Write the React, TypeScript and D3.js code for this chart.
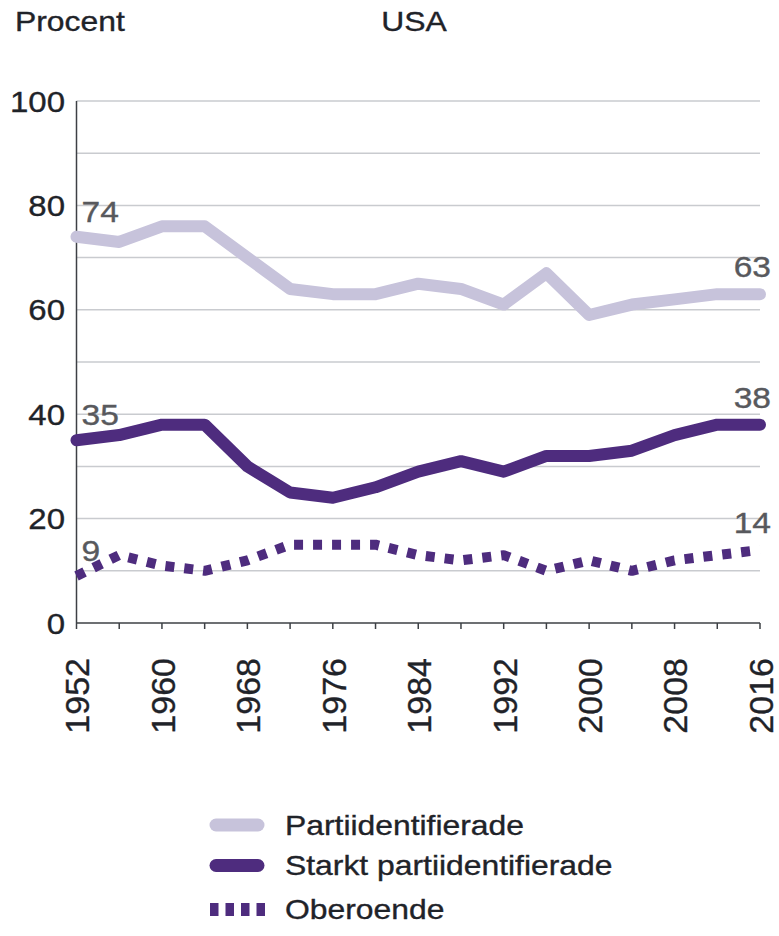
import React from "react";
import * as d3 from "d3";

const years = [1952, 1956, 1960, 1964, 1968, 1972, 1976, 1980, 1984, 1988, 1992, 1996, 2000, 2004, 2008, 2012, 2016];
const partiidentifierade = [74, 73, 76, 76, 70, 64, 63, 63, 65, 64, 61, 67, 59, 61, 62, 63, 63];
const starkt = [35, 36, 38, 38, 30, 25, 24, 26, 29, 31, 29, 32, 32, 33, 36, 38, 38];
const oberoende = [9, 13, 11, 10, 12, 15, 15, 15, 13, 12, 13, 10, 12, 10, 12, 13, 14];
const xTickLabels = [1952, 1960, 1968, 1976, 1984, 1992, 2000, 2008, 2016];
const yTickLabels = [0, 20, 40, 60, 80, 100];
const gridValues = [10, 20, 30, 40, 50, 60, 70, 80, 90, 100];
const seriesNames = ["Partiidentifierade", "Starkt partiidentifierade", "Oberoende"];

const W = 779;
const H = 936;
const FONT = "'Liberation Sans', Arial, Helvetica, sans-serif";
const SX = 1.18;
const LIGHT = "#c7c3db";
const DARK = "#4e2c7e";
const TEXT = "#1f2329";
const VAL = "#58595d";
const GRID = "#c9cbcf";
const AXIS = "#3d4045";

function T({ x, y, size, anchor = "start", fill = TEXT, sx = SX, children }: any) {
  return (
    <text
      transform={`translate(${x},${y}) scale(${sx},1)`}
      textAnchor={anchor}
      fontSize={size}
      fontFamily={FONT}
      fill={fill}
      stroke={fill}
      strokeWidth={0.35}
    >
      {children}
    </text>
  );
}

export default function App() {
  const x = d3.scaleLinear().domain([1952, 2016]).range([76.5, 760]);
  const y = d3.scaleLinear().domain([0, 100]).range([623, 101]);

  const line = (vals: number[]) =>
    d3
      .line<number>()
      .x((_, i) => x(years[i]))
      .y((v) => y(v))(vals) as string;

  const series = [
    { vals: partiidentifierade, color: LIGHT, dash: undefined, width: 12, cap: "round" },
    { vals: starkt, color: DARK, dash: undefined, width: 12, cap: "round" },
    { vals: oberoende, color: DARK, dash: "9 10", width: 10, cap: "butt" },
  ];

  const n = years.length - 1;

  return (
    <svg width={W} height={H} style={{ position: "absolute", left: 0, top: 0, background: "#fff" }}>
      <T x={15} y={31} size={27}>Procent</T>
      <T x={414} y={31} size={27} anchor="middle">USA</T>

      {gridValues.map((g) => (
        <line key={g} x1={x(1952)} x2={x(2016)} y1={y(g)} y2={y(g)} stroke={GRID} strokeWidth={1.5} />
      ))}

      {yTickLabels.map((t) => (
        <T key={t} x={65} y={y(t) + 10.5} size={30} anchor="end" sx={1.1}>
          {t}
        </T>
      ))}

      <line x1={x(1952)} x2={x(1952)} y1={y(100)} y2={y(0)} stroke={AXIS} strokeWidth={1.5} />
      <line x1={x(1952)} x2={x(2016)} y1={y(0)} y2={y(0)} stroke={AXIS} strokeWidth={1.5} />
      {years.map((yr) => (
        <line key={yr} x1={x(yr)} x2={x(yr)} y1={y(0)} y2={y(0) + 6} stroke={AXIS} strokeWidth={1.5} />
      ))}

      {xTickLabels.map((yr) => (
        <text
          key={yr}
          transform={`translate(${x(yr)},658) rotate(-90)`}
          textAnchor="end"
          dy="0.38em"
          fontSize={34}
          fontFamily={FONT}
          fill={TEXT}
          stroke={TEXT}
          strokeWidth={0.35}
        >
          {yr}
        </text>
      ))}

      {series.map((s, i) => (
        <path
          key={i}
          d={line(s.vals)}
          fill="none"
          stroke={s.color}
          strokeWidth={s.width}
          strokeLinecap={s.cap as any}
          strokeLinejoin="round"
          strokeDasharray={s.dash}
        />
      ))}

      {series.map((s, i) => (
        <g key={"l" + i}>
          <T x={x(1952) + 5} y={y(s.vals[0]) - 15} size={30} fill={VAL} sx={1.12}>
            {s.vals[0]}
          </T>
          <T x={x(2016) + 11} y={y(s.vals[n]) - 17} size={30} fill={VAL} anchor="end" sx={1.12}>
            {s.vals[n]}
          </T>
        </g>
      ))}

      {seriesNames.map((name, i) => {
        const cy = [825, 865.5, 909.5][i];
        const s = series[i];
        return (
          <g key={name}>
            {i < 2 ? (
              <line x1={216} x2={258} y1={cy} y2={cy} stroke={s.color} strokeWidth={13} strokeLinecap="round" />
            ) : (
              <line x1={210} x2={268} y1={cy} y2={cy} stroke={s.color} strokeWidth={13} strokeDasharray="8.5 7" />
            )}
            <T x={285} y={cy + 9.5} size={27}>
              {name}
            </T>
          </g>
        );
      })}
    </svg>
  );
}
